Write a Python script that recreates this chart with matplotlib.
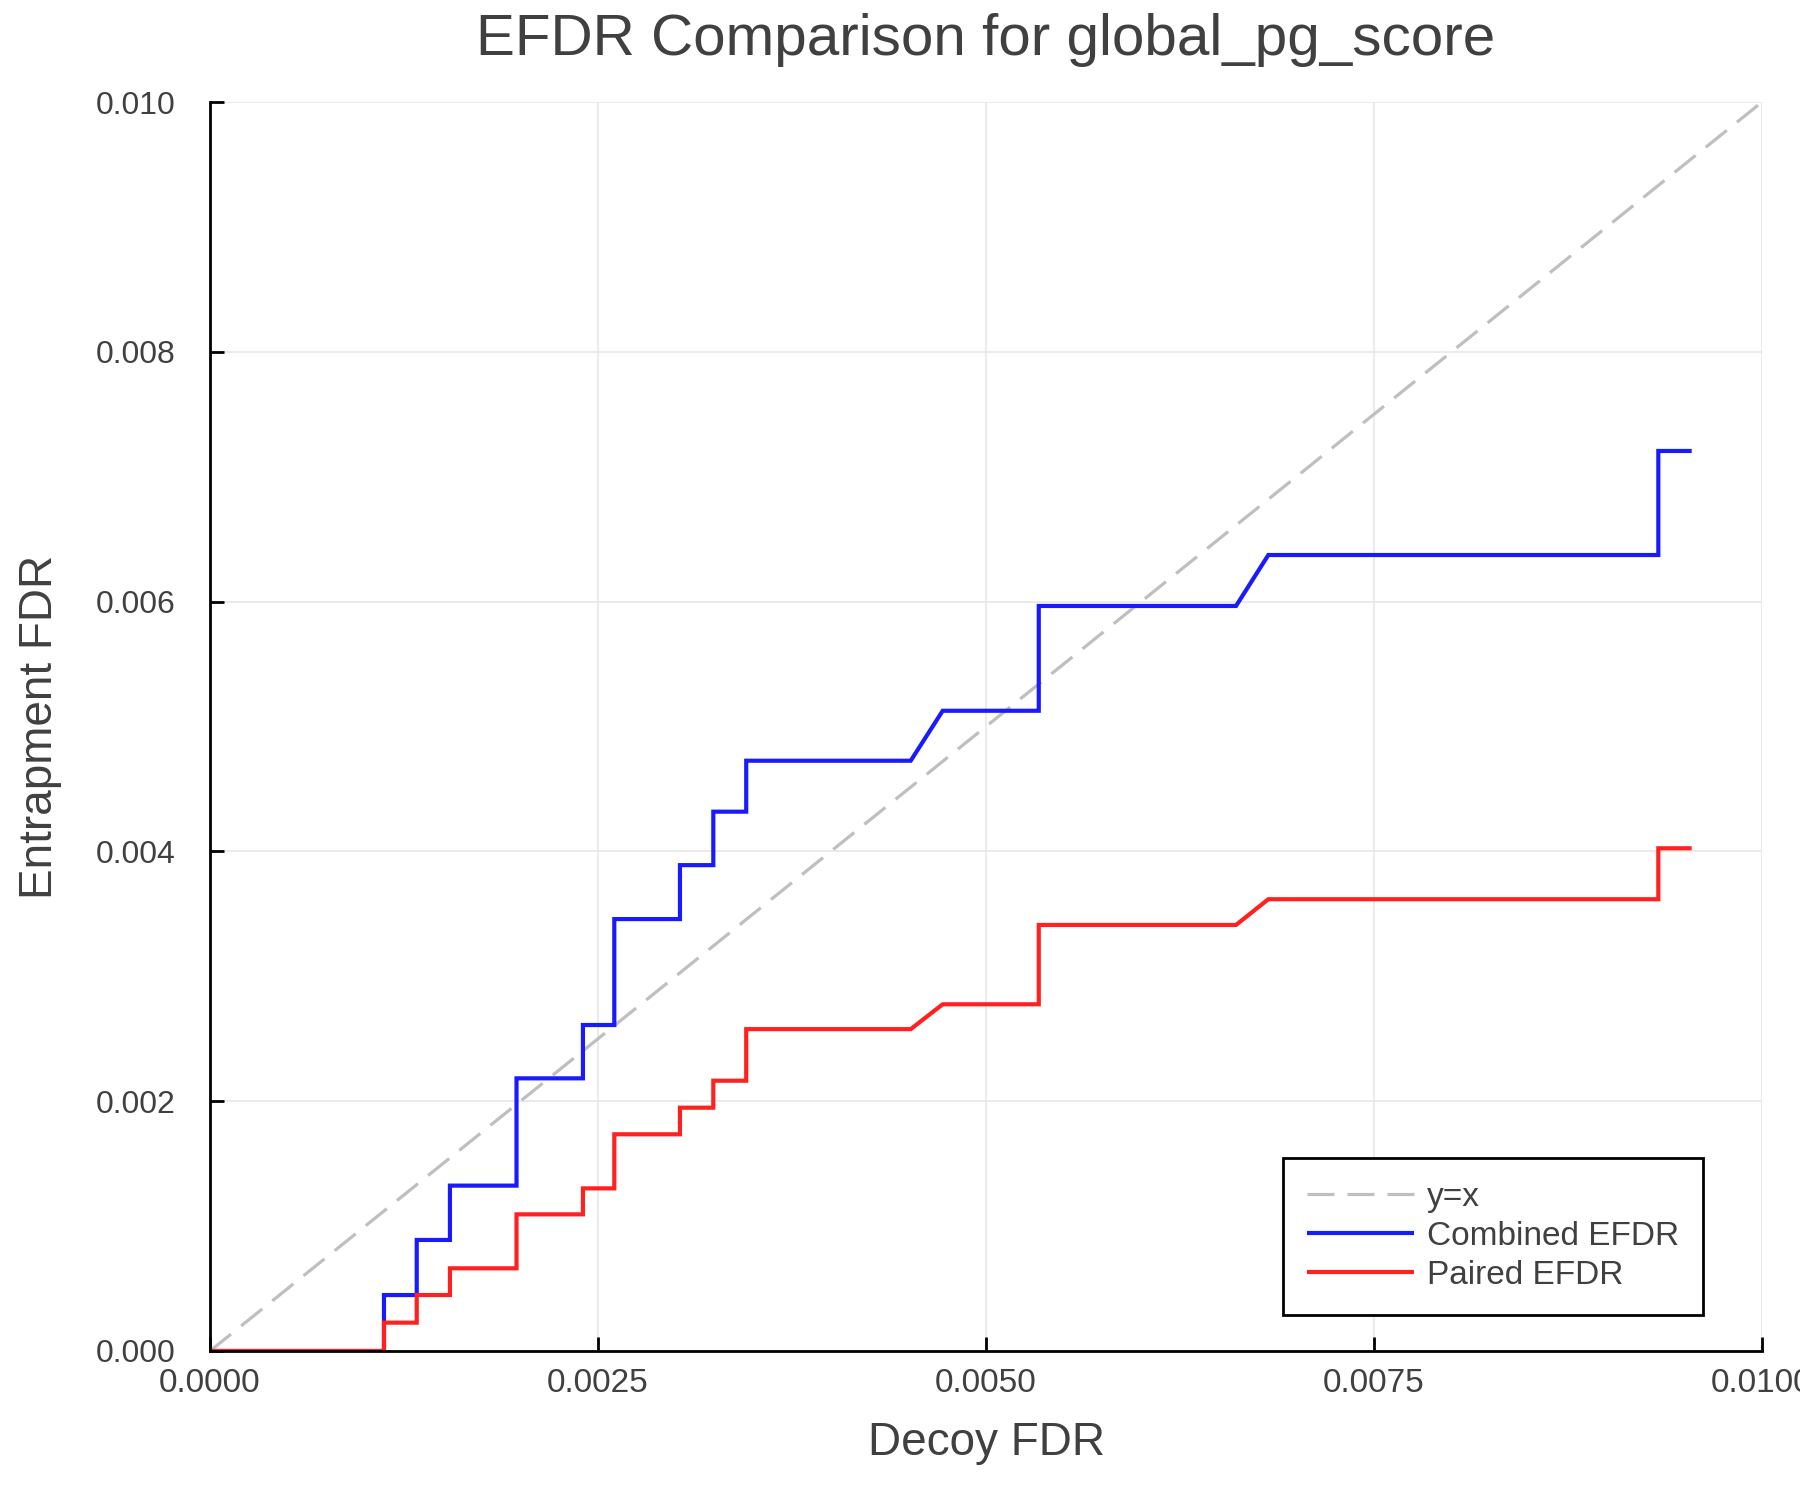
import matplotlib
matplotlib.use("Agg")
import matplotlib.pyplot as plt
from matplotlib.ticker import FormatStrFormatter

plt.rcParams['font.family'] = ['Liberation Sans', 'DejaVu Sans']

# ---- data ----
decoy_fdr = [0.0, 0.001121, 0.001121, 0.001332, 0.001332, 0.001546, 0.001546,
             0.001975, 0.001975, 0.002403, 0.002403, 0.002605, 0.002605,
             0.003028, 0.003028, 0.003243, 0.003243, 0.003455, 0.003455,
             0.004515, 0.004721, 0.005340, 0.005340, 0.006611, 0.006819,
             0.009332, 0.009332, 0.009547]
combined_efdr = [0.0, 0.0, 0.000448, 0.000448, 0.000889, 0.000889, 0.001324,
                 0.001324, 0.002183, 0.002183, 0.002610, 0.002610, 0.003458,
                 0.003458, 0.003890, 0.003890, 0.004318, 0.004318, 0.004726,
                 0.004726, 0.005126, 0.005126, 0.005965, 0.005965, 0.006373,
                 0.006373, 0.007206, 0.007206]
paired_efdr = [0.0, 0.0, 0.000227, 0.000227, 0.000448, 0.000448, 0.000662,
               0.000662, 0.001094, 0.001094, 0.001302, 0.001302, 0.001735,
               0.001735, 0.001948, 0.001948, 0.002164, 0.002164, 0.002577,
               0.002577, 0.002776, 0.002776, 0.003411, 0.003411, 0.003617,
               0.003617, 0.004025, 0.004025]
diag = [0.0, 0.01]
x_ticks = [0.0, 0.0025, 0.005, 0.0075, 0.01]
y_ticks = [0.0, 0.002, 0.004, 0.006, 0.008, 0.01]

title = "EFDR Comparison for global_pg_score"
xlabel = "Decoy FDR"
ylabel = "Entrapment FDR"

TXT = '#404040'

fig = plt.figure(figsize=(18, 15), dpi=100)
ax = fig.add_axes([210/1800, 1 - 1351/1500, (1762-210)/1800, (1351-102)/1500])

lw_dash = 2.3
ax.plot(diag, diag, color='#bfbfbf', lw=lw_dash,
        ls=(0, (19.4/lw_dash, 9.4/lw_dash)), label='y=x', zorder=2)
ax.plot(decoy_fdr, combined_efdr, color='#1a1aff', lw=3.0,
        solid_joinstyle='miter', solid_capstyle='butt',
        label='Combined EFDR', zorder=3)
ax.plot(decoy_fdr, paired_efdr, color='#ff2020', lw=3.0,
        solid_joinstyle='miter', solid_capstyle='butt',
        label='Paired EFDR', zorder=4)

ax.set_xlim(0, 0.01)
ax.set_ylim(0, 0.01)
ax.set_xticks(x_ticks)
ax.set_yticks(y_ticks)
ax.xaxis.set_major_formatter(FormatStrFormatter('%.4f'))
ax.yaxis.set_major_formatter(FormatStrFormatter('%.3f'))

ax.grid(True, color='#e6e6e6', lw=1.1, zorder=0)
ax.set_axisbelow(True)

for s in ['top', 'right']:
    ax.spines[s].set_visible(False)
for s in ['left', 'bottom']:
    ax.spines[s].set_linewidth(2.0)
    ax.spines[s].set_color('black')
    ax.spines[s].set_zorder(5)

ax.tick_params(axis='both', direction='in', length=10, width=2.0,
               color='black', labelcolor=TXT)
ax.tick_params(axis='x', pad=12, labelsize=24)
ax.tick_params(axis='y', pad=25, labelsize=23)

ax.set_title(title, fontsize=42, color=TXT, pad=34)
ax.set_xlabel(xlabel, fontsize=33, color=TXT)
ax.set_ylabel(ylabel, fontsize=33, color=TXT)
ax.xaxis.set_label_coords(0.5, (1351 - 1443) / 1249)
ax.xaxis.label.set_va('center')
ax.yaxis.set_label_coords((40 - 210) / 1552, 0.5)
ax.yaxis.label.set_va('center')

leg = ax.legend(loc='upper left', bbox_to_anchor=((1283-210)/1552, (1351-1158)/1249),
                fontsize=24, handlelength=3.2, handletextpad=0.4,
                labelspacing=0.24, borderpad=0.72, borderaxespad=0.0,
                fancybox=False, framealpha=1, edgecolor='black',
                labelcolor=TXT)
leg.get_frame().set_linewidth(2.0)

fig.savefig('out.png', dpi=100, facecolor='white')
